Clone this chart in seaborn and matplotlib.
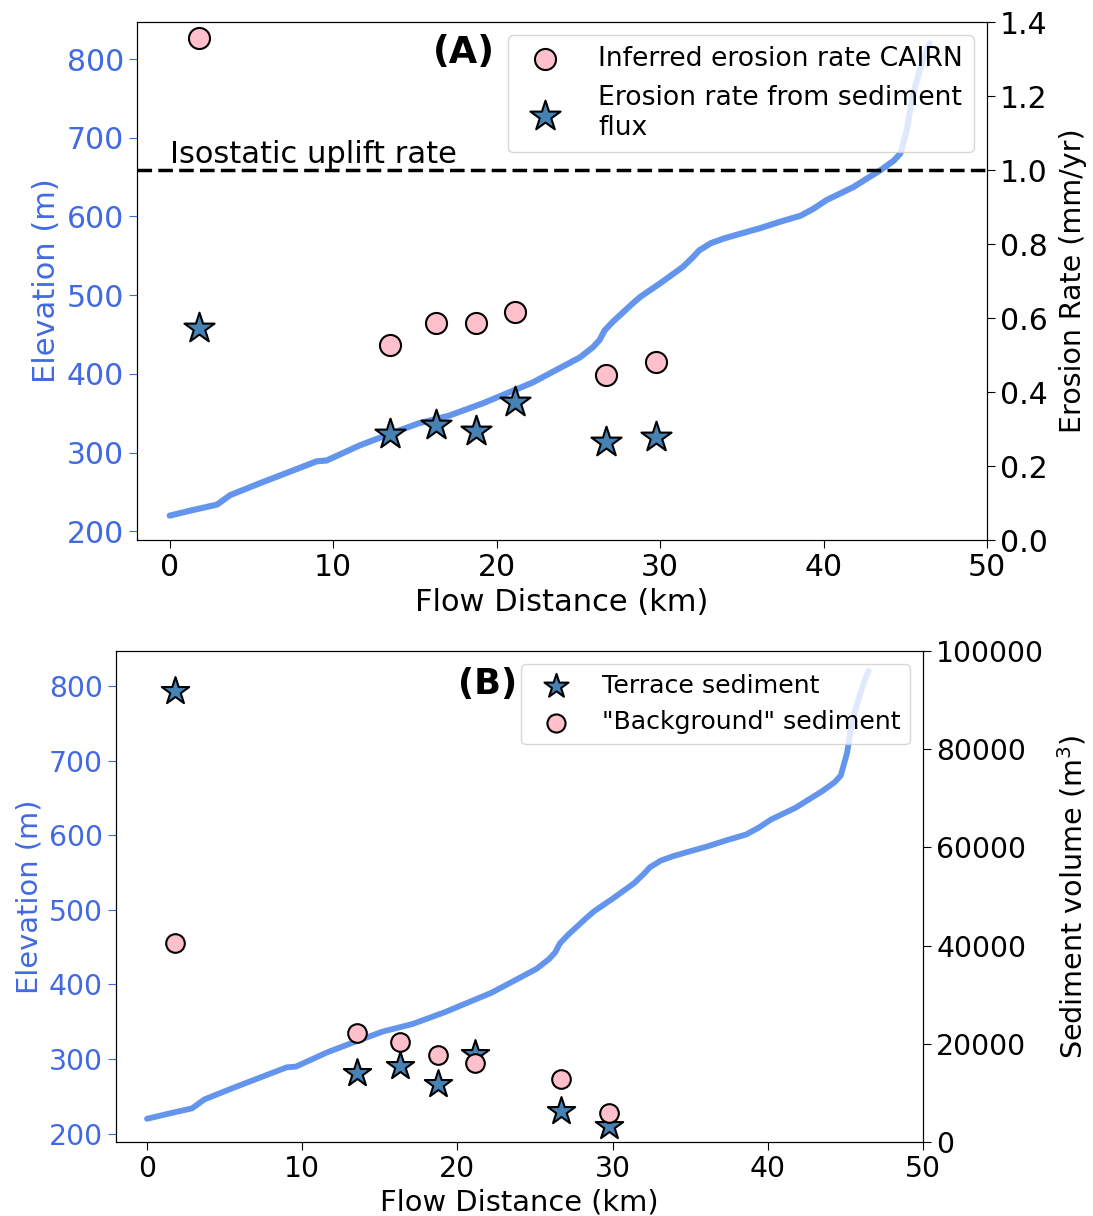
import numpy as np
import pandas as pd
import matplotlib
matplotlib.use("Agg")
import matplotlib.pyplot as plt
import seaborn as sns

# ---------------- data ----------------
# river long profile (shared by both panels)
profile_dist = [0, 1.4, 2.9, 3.7, 5.5, 7.5, 9.0, 9.6, 11.6, 13.5, 15.2, 17.1, 19.2,
                22.2, 25.1, 25.9, 26.3, 26.6, 27.1, 28.3, 28.8, 30.0, 31.4, 32.0,
                32.4, 33.1, 33.9, 34.9, 36.1, 37.3, 38.6, 39.4, 40.2, 41.0, 41.8,
                42.8, 43.5, 44.3, 44.7, 45.1, 45.3, 45.6, 45.9, 46.3, 46.5]
profile_elev = [220, 227, 234, 246, 261, 277, 289, 290, 309, 324, 337, 347, 363,
                389, 421, 434, 443, 455, 466, 489, 498, 515, 536, 548,
                557, 566, 572, 578, 585, 593, 601, 610, 621, 629, 637,
                650, 659, 671, 680, 710, 735, 765, 786, 811, 820]

sample_dist = [1.8, 13.5, 16.3, 18.75, 21.15, 26.7, 29.75]

# panel A: erosion rates (mm/yr)
cairn_rate = [1.357, 0.527, 0.586, 0.586, 0.616, 0.446, 0.481]
flux_rate = [0.573, 0.286, 0.311, 0.295, 0.373, 0.265, 0.278]
uplift_rate = 1.0

# panel B: sediment volumes (m^3)
terrace_vol = [91900, 14050, 15500, 11800, 18000, 6300, 3200]
background_vol = [40500, 22200, 20400, 17700, 16100, 12800, 5900]

erosion_ticks = [0.0, 0.2, 0.4, 0.6, 0.8, 1.0, 1.2, 1.4]
volume_ticks = [0, 20000, 40000, 60000, 80000, 100000]
elev_ticks = [200, 300, 400, 500, 600, 700, 800]
dist_ticks = [0, 10, 20, 30, 40, 50]

# ---------------- style ----------------
sns.set_style("ticks", {"text.color": "black", "axes.labelcolor": "black",
                        "xtick.color": "black", "ytick.color": "black",
                        "axes.edgecolor": "black"})
plt.rcParams['font.family'] = ['DejaVu Sans']

LINE_C = "cornflowerblue"
LEFT_C = "royalblue"

fig = plt.figure(figsize=(10.93, 12.16), dpi=100)
axA = fig.add_axes([0.1253, 0.5559, 0.7777, 0.4260])
axB = fig.add_axes([0.1061, 0.0609, 0.7384, 0.4038])

prof = pd.DataFrame({"dist": profile_dist, "elev": profile_elev})


def draw_profile(ax, tick_fs, label_fs, lw):
    sns.lineplot(data=prof, x="dist", y="elev", ax=ax, color=LINE_C, lw=lw,
                 sort=False, estimator=None)
    ax.set_xlim(-2, 50)
    ax.set_ylim(189, 847)
    ax.set_xticks(dist_ticks)
    ax.set_yticks(elev_ticks)
    ax.set_xlabel("Flow Distance (km)", fontsize=label_fs)
    ax.set_ylabel("Elevation (m)", fontsize=label_fs, color=LEFT_C)
    ax.tick_params(axis="x", labelsize=tick_fs, length=6)
    ax.tick_params(axis="y", labelsize=tick_fs, colors=LEFT_C, length=6)


# ---------------- panel A ----------------
draw_profile(axA, 21.5, 22, 4.4)
axA2 = axA.twinx()
sns.scatterplot(x=sample_dist, y=cairn_rate, ax=axA2, marker="o", s=230,
                color="pink", edgecolor="black", linewidth=1.5,
                label="Inferred erosion rate CAIRN", zorder=3)
sns.scatterplot(x=sample_dist, y=flux_rate, ax=axA2, marker="*", s=520,
                color="steelblue", edgecolor="black", linewidth=1.5,
                label="Erosion rate from sediment\nflux", zorder=3)
axA2.axhline(uplift_rate, color="black", ls="--", lw=2.5, dashes=(4.2, 1.8))
axA2.text(0, 1.018, "Isostatic uplift rate", fontsize=22, va="baseline",
          ha="left")
axA2.set_ylim(0, 1.4)
axA2.set_yticks(erosion_ticks)
axA2.set_yticklabels([f"{t:.1f}" for t in erosion_ticks])
axA2.set_ylabel("Erosion Rate (mm/yr)", fontsize=20.5, labelpad=8)
axA2.tick_params(axis="y", labelsize=21.5, length=6)
axA2.legend(loc="upper right", fontsize=19.2, handletextpad=1.0)
axA2.text(0.348, 0.942, "(A)", transform=axA2.transAxes, fontsize=26.5,
          fontweight="bold", va="center", ha="left")

# ---------------- panel B ----------------
draw_profile(axB, 20.3, 20.8, 4.2)
axB2 = axB.twinx()
sns.scatterplot(x=sample_dist, y=terrace_vol, ax=axB2, marker="*", s=430,
                color="steelblue", edgecolor="black", linewidth=1.5,
                label="Terrace sediment", zorder=3)
sns.scatterplot(x=sample_dist, y=background_vol, ax=axB2, marker="o", s=180,
                color="pink", edgecolor="black", linewidth=1.5,
                label='"Background" sediment', zorder=3)
axB2.set_ylim(0, 100000)
axB2.set_yticks(volume_ticks)
axB2.set_yticklabels([str(t) for t in volume_ticks])
axB2.set_ylabel("Sediment volume (m$^3$)", fontsize=20.6, labelpad=8)
axB2.tick_params(axis="y", labelsize=20.3, length=6)
legB = axB2.legend(loc="upper right", fontsize=18.2)
legB.legend_handles[0].set_sizes([330])
legB.legend_handles[1].set_sizes([170])
axB2.text(0.424, 0.933, "(B)", transform=axB2.transAxes, fontsize=25.3,
          fontweight="bold", va="center", ha="left")

fig.savefig("out.png", dpi=100)
